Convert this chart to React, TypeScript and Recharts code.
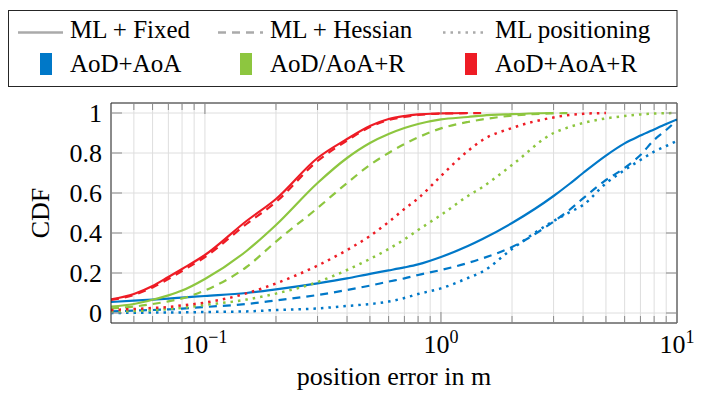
import { CartesianGrid, Line, LineChart, XAxis, YAxis } from "recharts";

const FONT = "'Liberation Serif', 'Times New Roman', serif";

// position error samples (m)
const X_VALUES = [
  0.04, 0.05, 0.06, 0.07, 0.08, 0.1, 0.15, 0.2, 0.3, 0.4, 0.5, 0.6, 0.7, 0.8, 1, 1.3, 1.5, 2, 3, 3.5, 4, 5,
  6, 7, 8, 9, 10,
];

// AoD+AoA
const BLUE_FIXED = [
  0.055, 0.062, 0.067, 0.072, 0.077, 0.085, 0.1, 0.118, 0.148, 0.173, 0.196, 0.213, 0.228, 0.243, 0.28, 0.335,
  0.37, 0.45, 0.585, 0.645, 0.7, 0.787, 0.848, 0.887, 0.918, 0.945, 0.968,
];
const BLUE_HESSIAN = [
  0.008, 0.012, 0.015, 0.018, 0.022, 0.03, 0.045, 0.063, 0.09, 0.115, 0.137, 0.157, 0.173, 0.19, 0.215, 0.25,
  0.273, 0.33, 0.457, 0.515, 0.573, 0.665, 0.725, 0.79, 0.865, 0.915, 0.965,
];
const BLUE_ML = [
  0.0, 0.001, 0.002, 0.002, 0.003, 0.005, 0.008, 0.015, 0.023, 0.035, 0.045, 0.057, 0.075, 0.095, 0.123, 0.175,
  0.207, 0.32, 0.46, 0.503, 0.54, 0.648, 0.715, 0.765, 0.807, 0.835, 0.86,
];

// AoD/AoA+R
const GREEN_FIXED = [
  0.032, 0.045, 0.066, 0.088, 0.112, 0.17, 0.31, 0.44, 0.65, 0.775, 0.85, 0.895, 0.925, 0.945, 0.968, 0.98,
  0.987, 0.994, 1.0,
];
const GREEN_HESSIAN = [
  0.023, 0.032, 0.045, 0.058, 0.073, 0.113, 0.23, 0.357, 0.525, 0.65, 0.74, 0.8, 0.845, 0.878, 0.923, 0.955,
  0.968, 0.987, 0.998, 1.0,
];
const GREEN_ML = [
  0.007, 0.01, 0.014, 0.02, 0.026, 0.04, 0.067, 0.097, 0.155, 0.215, 0.27, 0.32, 0.368, 0.415, 0.49, 0.585,
  0.63, 0.74, 0.9, 0.93, 0.95, 0.973, 0.985, 0.993, 0.997, 0.999, 1.0,
];

// AoD+AoA+R
const RED_FIXED = [
  0.068, 0.095, 0.135, 0.18, 0.22, 0.29, 0.46, 0.57, 0.775, 0.87, 0.935, 0.97, 0.985, 0.993, 0.998, 1.0,
];
const RED_HESSIAN = [
  0.065, 0.09, 0.128, 0.17, 0.21, 0.28, 0.445, 0.555, 0.76, 0.862, 0.93, 0.965, 0.98, 0.99, 0.997, 0.999, 1.0,
];
const RED_ML = [
  0.015, 0.02, 0.025, 0.03, 0.038, 0.052, 0.098, 0.148, 0.237, 0.315, 0.385, 0.455, 0.52, 0.573, 0.685, 0.81,
  0.865, 0.925, 0.978, 0.99, 0.996, 1.0,
];

const X_TICKS = [
  0.05, 0.06, 0.07, 0.08, 0.09, 0.1, 0.2, 0.3, 0.4, 0.5, 0.6, 0.7, 0.8, 0.9, 1, 2, 3, 4, 5, 6, 7, 8, 9, 10,
];
const X_MAJOR_TICKS = [0.1, 1, 10];
const X_TICK_EXPONENTS = ["\u22121", "0", "1"];
const Y_TICKS = [0, 0.2, 0.4, 0.6, 0.8, 1];
const Y_TICK_LABELS = ["0", "0.2", "0.4", "0.6", "0.8", "1"];

const STYLE_NAMES = ["ML + Fixed", "ML + Hessian", "ML positioning"];
const METHOD_NAMES = ["AoD+AoA", "AoD/AoA+R", "AoD+AoA+R"];

const COLORS = ["#0078c8", "#8dc63f", "#ee1c25"];
const DASHES = [undefined, "8 6", "2.5 5"];
const WIDTHS = [2.2, 2.2, 2.5];

const SERIES = [
  { key: "blueFixed", values: BLUE_FIXED, method: 0, style: 0 },
  { key: "blueHessian", values: BLUE_HESSIAN, method: 0, style: 1 },
  { key: "blueMl", values: BLUE_ML, method: 0, style: 2 },
  { key: "greenFixed", values: GREEN_FIXED, method: 1, style: 0 },
  { key: "greenHessian", values: GREEN_HESSIAN, method: 1, style: 1 },
  { key: "greenMl", values: GREEN_ML, method: 1, style: 2 },
  { key: "redFixed", values: RED_FIXED, method: 2, style: 0 },
  { key: "redHessian", values: RED_HESSIAN, method: 2, style: 1 },
  { key: "redMl", values: RED_ML, method: 2, style: 2 },
];

const rows = X_VALUES.map((x, i) => {
  const row: Record<string, number | null> = { x };
  SERIES.forEach((s) => {
    row[s.key] = s.values[i] ?? null;
  });
  return row;
});

const TICK_COLOR = "#8a8a8a";
const GRID_COLOR = "#dedede";
const FRAME_COLOR = "#262626";
const MAJOR_LEN = 11;
const MINOR_LEN = 7;
const Y_LABEL_GAP = 9;
const LEGEND_TEXT_X = [70, 270, 495];

function BottomTick(props: any) {
  const { x, y, payload } = props;
  const idx = X_MAJOR_TICKS.indexOf(payload.value);
  const len = idx >= 0 ? MAJOR_LEN : MINOR_LEN;
  return (
    <g>
      <line x1={x} x2={x} y1={y} y2={y - len} stroke={TICK_COLOR} />
      {idx >= 0 && (
        <text x={x} y={y + 30} textAnchor="middle" style={{ fontFamily: FONT }} fontSize={26} fill="#000">
          10
          <tspan dy={-10} fontSize={18}>
            {X_TICK_EXPONENTS[idx]}
          </tspan>
        </text>
      )}
    </g>
  );
}

function TopTick(props: any) {
  const { x, y, payload } = props;
  const len = X_MAJOR_TICKS.includes(payload.value) ? MAJOR_LEN : MINOR_LEN;
  return <line x1={x} x2={x} y1={y} y2={y + len} stroke={TICK_COLOR} />;
}

function LeftTick(props: any) {
  const { x, y, payload } = props;
  const axisX = x + Y_LABEL_GAP;
  return (
    <g>
      <line x1={axisX} x2={axisX + MAJOR_LEN} y1={y} y2={y} stroke={TICK_COLOR} />
      <text x={x} y={y} dy="0.35em" textAnchor="end" style={{ fontFamily: FONT }} fontSize={26} fill="#000">
        {Y_TICK_LABELS[Y_TICKS.indexOf(payload.value)]}
      </text>
    </g>
  );
}

function RightTick(props: any) {
  const { x, y } = props;
  return <line x1={x} x2={x - MAJOR_LEN} y1={y} y2={y} stroke={TICK_COLOR} />;
}

// legend frame and swatches (svg), names as html text
function LegendOverlay() {
  return (
    <>
      <svg width={707} height={100} style={{ position: "absolute", left: 0, top: 0 }}>
        <rect x={8.5} y={10.5} width={668.5} height={76} fill="#fff" stroke={FRAME_COLOR} />
        {STYLE_NAMES.map((name, i) => (
          <line
            key={name}
            x1={LEGEND_TEXT_X[i] - 52}
            x2={LEGEND_TEXT_X[i] - 7}
            y1={32.5}
            y2={32.5}
            stroke="#aaaaaa"
            strokeWidth={2.5}
            strokeDasharray={DASHES[i]}
          />
        ))}
        {METHOD_NAMES.map((name, i) => (
          <rect key={name} x={LEGEND_TEXT_X[i] - 30} y={53} width={12} height={22} fill={COLORS[i]} />
        ))}
      </svg>
      {STYLE_NAMES.map((name, i) => (
        <div key={name} style={{ ...htmlText(25), left: LEGEND_TEXT_X[i], top: 17 }}>
          {name}
        </div>
      ))}
      {METHOD_NAMES.map((name, i) => (
        <div key={name} style={{ ...htmlText(25), left: LEGEND_TEXT_X[i], top: 51 }}>
          {name}
        </div>
      ))}
    </>
  );
}

function htmlText(size: number): React.CSSProperties {
  return {
    position: "absolute",
    fontFamily: FONT,
    fontSize: size,
    lineHeight: `${size}px`,
    whiteSpace: "nowrap",
    color: "#000",
  };
}

export default function App() {
  return (
    <div style={{ position: "relative", margin: "-8px 0 0 -8px", width: 707, height: 394, fontFamily: FONT }}>
      <LineChart width={707} height={394} data={rows} margin={{ top: 102, right: 29, bottom: 1, left: 5 }}>
        <CartesianGrid stroke={GRID_COLOR} strokeWidth={1} />
        <XAxis
          dataKey="x"
          type="number"
          scale="log"
          domain={[0.04, 10]}
          allowDataOverflow
          ticks={X_TICKS}
          interval={0}
          tickSize={0}
          tickMargin={0}
          tickLine={false}
          tick={<BottomTick />}
          axisLine={{ stroke: FRAME_COLOR }}
          height={70}
        />
        <XAxis
          xAxisId="top"
          orientation="top"
          dataKey="x"
          type="number"
          scale="log"
          domain={[0.04, 10]}
          allowDataOverflow
          ticks={X_TICKS}
          interval={0}
          tickSize={0}
          tickMargin={0}
          tickLine={false}
          tick={<TopTick />}
          axisLine={{ stroke: FRAME_COLOR }}
          height={1}
        />
        <YAxis
          type="number"
          domain={[-0.05, 1.05]}
          allowDataOverflow
          ticks={Y_TICKS}
          interval={0}
          tickSize={0}
          tickMargin={Y_LABEL_GAP}
          tickLine={false}
          tick={<LeftTick />}
          axisLine={{ stroke: FRAME_COLOR }}
          width={106}
        />
        <YAxis
          yAxisId="right"
          orientation="right"
          type="number"
          domain={[-0.05, 1.05]}
          allowDataOverflow
          ticks={Y_TICKS}
          interval={0}
          tickSize={0}
          tickMargin={0}
          tickLine={false}
          tick={<RightTick />}
          axisLine={{ stroke: FRAME_COLOR }}
          width={1}
        />
        {SERIES.map((s) => (
          <Line
            key={s.key}
            dataKey={s.key}
            type="monotone"
            stroke={COLORS[s.method]}
            strokeWidth={WIDTHS[s.style]}
            strokeDasharray={DASHES[s.style]}
            dot={false}
            activeDot={false}
            connectNulls={false}
            isAnimationActive={false}
          />
        ))}
      </LineChart>
      <LegendOverlay />
      <div style={{ ...htmlText(26), left: 111, width: 566, top: 364, textAlign: "center" }}>
        position error in m
      </div>
      <div
        style={{
          ...htmlText(26),
          left: -9,
          top: 200,
          width: 100,
          textAlign: "center",
          transform: "rotate(-90deg)",
        }}
      >
        CDF
      </div>
    </div>
  );
}
